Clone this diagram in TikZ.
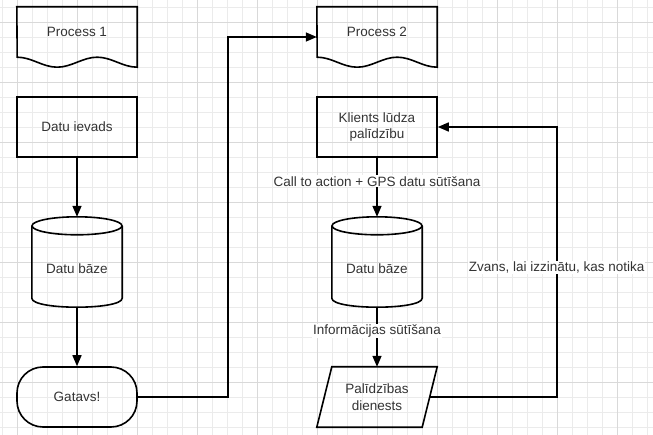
\documentclass[tikz,border=0pt]{standalone}
\usepackage{fontspec}
\setmainfont{Liberation Sans}
\usetikzlibrary{arrows.meta,calc}
\begin{document}
\begin{tikzpicture}[x=1pt,y=-1pt,
   txt/.style={font=\fontsize{13.5}{16.5}\selectfont, text=black!80, align=center},
   forma/.style={txt, minimum width=120pt, minimum height=60pt, inner sep=2pt},
   blok/.style={forma, draw, line width=1.6pt},
   lin/.style={line width=1.6pt},
   bulta/.style={lin, -{Triangle[length=11pt,width=9pt]}},
   etikete/.style={txt, fill=white, inner sep=1pt}]
   \useasboundingbox (0,0) rectangle (653,435);
   % rezgis
   \begin{scope}
   \clip (0,0) rectangle (653,435);
   \foreach \x in {2,17,...,647} \draw[black!8,line width=0.7pt] (\x,0) -- (\x,435);
   \foreach \y in {7,22,...,427} \draw[black!8,line width=0.7pt] (0,\y) -- (653,\y);
   \foreach \x in {17,77,...,617} \draw[black!15,line width=0.8pt] (\x,0) -- (\x,435);
   \foreach \y in {22,82,...,382} \draw[black!15,line width=0.8pt] (0,\y) -- (653,\y);
   \end{scope}
   %
   \node[forma, text height=10pt, text depth=10pt] (p1) at (77,37) {Process 1};
   \node[blok] (di) at (77,127) {Datu ievads};
   \node[forma, minimum width=90pt, minimum height=90pt, text height=24pt, text depth=0pt] (db1) at (77,262) {Datu bāze};
   \node[blok, rounded corners=26pt] (g) at (77,397) {Gatavs!};
   %
   \node[forma, text height=10pt, text depth=10pt] (p2) at (377,37) {Process 2};
   \node[blok] (kl) at (377,127) {Klients lūdza\\palīdzību};
   \node[forma, minimum width=90pt, minimum height=90pt, text height=24pt, text depth=0pt] (db2) at (377,262) {Datu bāze};
   \node[forma, minimum width=105pt] (pd) at (377,397) {Palīdzības\\dienests};
   % formas
   \foreach \n in {p1,p2}
   \draw[lin] (\n.north west) -- (\n.north east) -- (\n.south east)
   cos ++(-20,-5) sin ++(-20,-5) cos ++(-20,5) sin ++(-20,5) cos ++(-20,-5) sin ++(-20,-5) -- cycle;
   \foreach \n in {db1,db2}
   {
   \draw[lin] ($(\n.north)+(0,9)$) ellipse [x radius=45, y radius=9];
   \draw[lin] ($(\n.north west)+(0,9)$) -- ($(\n.south west)+(0,-9)$)
   .. controls +(0,12) and +(0,12) .. ($(\n.south east)+(0,-9)$) -- ($(\n.north east)+(0,9)$);
   }
   \draw[lin] ([xshift=7.5pt]pd.north west) -- ([xshift=7.5pt]pd.north east)
   -- ([xshift=-7.5pt]pd.south east) -- ([xshift=-7.5pt]pd.south west) -- cycle;
   % bultas
   \draw[bulta] (di.south) -- (db1.north);
   \draw[bulta] (db1.south) -- (g.north);
   \draw[bulta] (g.east) -- ++(90,0) |- (p2.west);
   \draw[bulta] (kl.south) -- node[etikete, pos=0.4] {Call to action + GPS datu sūtīšana} (db2.north);
   \draw[bulta] (db2.south) -- node[etikete, pos=0.4] {Informācijas sūtīšana} (pd.north);
   \draw[bulta] (pd.east) -- ++(127,0) |- node[etikete, pos=0.24] {Zvans, lai izzinātu, kas notika} (kl.east);
\end{tikzpicture}
\end{document}
